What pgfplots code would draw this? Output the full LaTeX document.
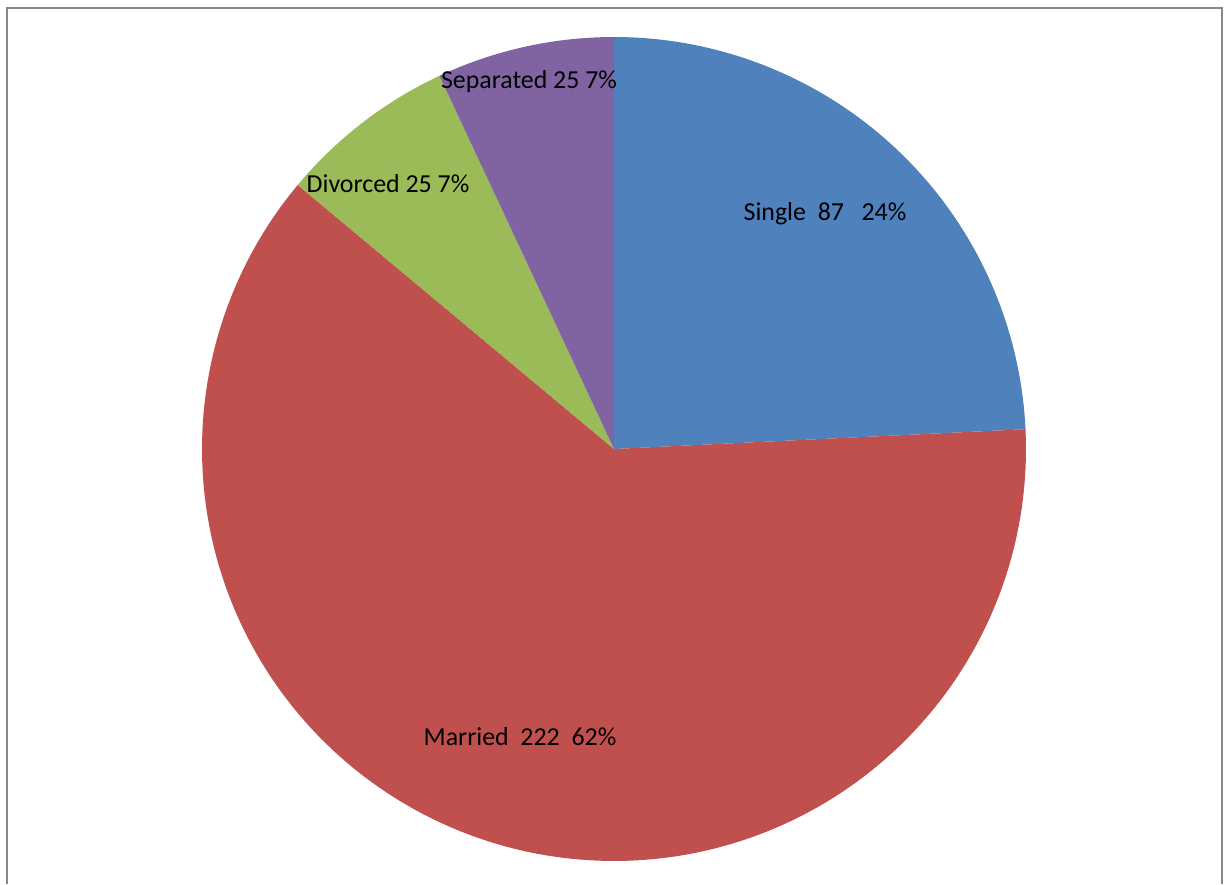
\documentclass[border=0pt]{standalone}
\usepackage{fontspec}
\setmainfont{Carlito}
\usepackage{pgfplots}
\pgfplotsset{compat=1.18}
\definecolor{cSingle}{HTML}{4F81BD}
\definecolor{cMarried}{HTML}{C0504D}
\definecolor{cDivorced}{HTML}{9BBB59}
\definecolor{cSeparated}{HTML}{8064A2}
\definecolor{cFrame}{HTML}{878787}
% data
\def\vSingle{87}
\def\vMarried{222}
\def\vDivorced{25}
\def\vSeparated{25}
\pgfmathsetmacro\tot{\vSingle+\vMarried+\vDivorced+\vSeparated}
\pgfmathsetmacro\unit{360/\tot}
\pgfmathsetmacro\aA{90}
\pgfmathsetmacro\aB{\aA-\unit*\vSingle}
\pgfmathsetmacro\aC{\aB-\unit*\vMarried}
\pgfmathsetmacro\aD{\aC-\unit*\vDivorced}
\pgfmathsetmacro\aE{\aD-\unit*\vSeparated}
\def\cx{614}\def\cy{435}\def\rr{412}
\tikzset{lab/.style={font=\fontsize{13}{16}\selectfont, text=black, inner sep=0pt}}
\begin{document}
\begin{tikzpicture}
\begin{axis}[
  scale only axis, width=615bp, height=442bp,
  xmin=0, xmax=1230, ymin=0, ymax=884,
  hide axis, clip=false,
]
\path (axis cs:0,0) rectangle (axis cs:1230,884);
\addplot[fill=cSingle, draw=none, domain=\aB:\aA, samples=80, variable=\t]
  ({\cx+\rr*cos(\t)},{\cy+\rr*sin(\t)}) -- (axis cs:\cx,\cy) -- cycle;
\addplot[fill=cMarried, draw=none, domain=\aC:\aB, samples=160, variable=\t]
  ({\cx+\rr*cos(\t)},{\cy+\rr*sin(\t)}) -- (axis cs:\cx,\cy) -- cycle;
\addplot[fill=cDivorced, draw=none, domain=\aD:\aC, samples=30, variable=\t]
  ({\cx+\rr*cos(\t)},{\cy+\rr*sin(\t)}) -- (axis cs:\cx,\cy) -- cycle;
\addplot[fill=cSeparated, draw=none, domain=\aE:\aD, samples=30, variable=\t]
  ({\cx+\rr*cos(\t)},{\cy+\rr*sin(\t)}) -- (axis cs:\cx,\cy) -- cycle;
\draw[cFrame, line width=1bp] (axis cs:7,0) -- (axis cs:7,876) -- (axis cs:1222,876) -- (axis cs:1222,0);
\node[lab] at (axis cs:825,670) {Single\ \ 87\ \ \ 24\%};
\node[lab] at (axis cs:520,147) {Married\ \ 222\ \ 62\%};
\node[lab] at (axis cs:388,700) {Divorced 25 7\%};
\node[lab] at (axis cs:529,802) {Separated 25 7\%};
\end{axis}
\end{tikzpicture}
\end{document}
